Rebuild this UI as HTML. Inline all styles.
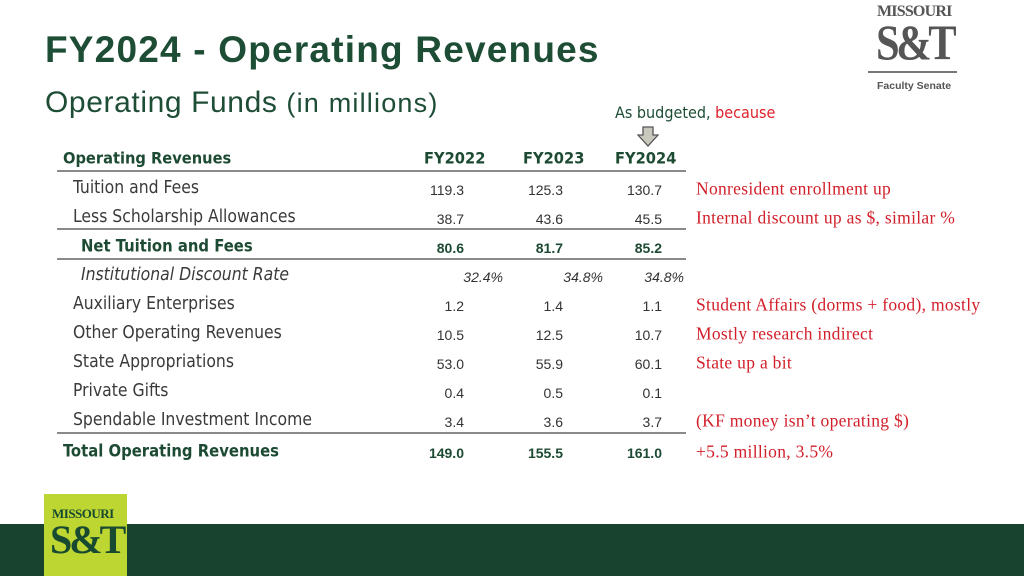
<!DOCTYPE html>
<html><head><meta charset="utf-8"><style>
body{margin:0;width:1024px;height:576px;position:relative;overflow:hidden;background:#fff;font-family:"Liberation Sans",sans-serif}
.a{position:absolute;white-space:nowrap}
.lab{font-family:"DejaVu Sans Condensed","Liberation Sans Narrow","Liberation Sans",sans-serif;font-size:17.4px;color:#3a3a3a;transform:translateY(-50%)}
.hd{font-family:"DejaVu Sans Condensed","Liberation Sans Narrow","Liberation Sans",sans-serif;font-size:16.3px;font-weight:bold;color:#1d4a33;transform:translateY(-50%)}
.v{font-size:14px;color:#333;transform:translate(-100%,-50%)}
.b{font-weight:bold;color:#1d4a33}
.n{font-family:"Liberation Serif",serif;font-size:17.5px;letter-spacing:0.3px;color:#d21f2a;transform:translateY(-50%)}
.ln{position:absolute;left:57px;width:629px;height:2px;background:#8a8a8a}
</style></head><body>
<div class="a" style="left:45px;top:29px;font-size:37px;font-weight:bold;color:#1e4d36;letter-spacing:1.2px">FY2024 - Operating Revenues</div>
<div class="a" style="left:45px;top:86px;font-size:30px;letter-spacing:0.6px;color:#1e4d36">Operating Funds <span style="font-size:27px;letter-spacing:1.2px">(in millions)</span></div>
<div class="a" style="left:615px;top:103px;font-size:16px;color:#1e4d36;font-family:'DejaVu Sans Condensed','Liberation Sans',sans-serif">As budgeted, <span style="color:#e0202b">because</span></div>
<svg class="a" style="left:637px;top:126px" width="22" height="21"><polygon points="6,1 16,1 16,9 21,9 11,20 1,9 6,9" fill="#c8c8bc" stroke="#555" stroke-width="1.3"/></svg>

<div class="a" style="left:868px;top:3px;width:90px;height:90px;color:#555">
<div style="position:absolute;left:9px;top:0;font-family:'Liberation Serif',serif;font-size:16px;font-weight:bold;letter-spacing:-0.8px">MISSOURI</div>
<div style="position:absolute;left:8px;top:10px;font-family:'Liberation Serif',serif;font-size:50px;font-weight:bold;letter-spacing:-4px;transform:scaleX(0.85);transform-origin:left">S&amp;T</div>
<div style="position:absolute;left:0;top:68px;width:89px;height:2px;background:#777"></div>
<div style="position:absolute;left:9px;top:77px;font-size:10.5px;font-weight:bold">Faculty Senate</div>
</div>

<div class="a" style="left:0;top:524px;width:1024px;height:52px;background:#17432f"></div>
<div class="a" style="left:44px;top:494px;width:83px;height:82px;background:#bdd632;color:#174a30">
<div style="position:absolute;left:8px;top:12px;font-family:'Liberation Serif',serif;font-size:13px;font-weight:bold;letter-spacing:-0.5px">MISSOURI</div>
<div style="position:absolute;left:6px;top:22px;font-family:'Liberation Serif',serif;font-size:40px;font-weight:bold;letter-spacing:-3px">S&amp;T</div>
</div>

<div class="ln" style="top:170px"></div>
<div class="ln" style="top:228px"></div>
<div class="ln" style="top:258px"></div>
<div class="ln" style="top:432px"></div>

<div id="tbl"></div>
<script>
const rows=["Tuition and Fees","Less Scholarship Allowances","Net Tuition and Fees","Institutional Discount Rate","Auxiliary Enterprises","Other Operating Revenues","State Appropriations","Private Gifts","Spendable Investment Income","Total Operating Revenues"];
const fy22=["119.3","38.7","80.6","32.4%","1.2","10.5","53.0","0.4","3.4","149.0"];
const fy23=["125.3","43.6","81.7","34.8%","1.4","12.5","55.9","0.5","3.6","155.5"];
const fy24=["130.7","45.5","85.2","34.8%","1.1","10.7","60.1","0.1","3.7","161.0"];
const notes=["Nonresident enrollment up","Internal discount up as $, similar %","","","Student Affairs (dorms + food), mostly","Mostly research indirect","State up a bit","","(KF money isn’t operating $)","+5.5 million, 3.5%"];
const ys=[188,217,246,275,304,333,362,391,420,451];
const t=document.getElementById('tbl');
function add(cls,x,y,txt,st){const d=document.createElement('div');d.className='a '+cls;d.style.left=x+'px';d.style.top=y+'px';d.textContent=txt;if(st)d.style.cssText+=st;t.appendChild(d);return d;}
let h=add('hd',63,158,'Operating Revenues');


[["FY2022",424],["FY2023",523],["FY2024",615]].forEach(c=>{const e=add('hd',c[1],158,c[0]);

});
rows.forEach((r,i)=>{
 const y=ys[i];
 const bold=(i==2||i==9), it=(i==3);
 const x=i==9?63:(i==2||i==3)?81:73;
 const l=add(bold?'hd':'lab',x,y,r,(it?'font-style:italic;':'')+(bold?'font-size:16.5px;':''));
 
 
 const xs=it?[503,603,684]:[464,563,662];
 [fy22,fy23,fy24].forEach((arr,j)=>{const v=add('v'+(bold?' b':''),xs[j],y+2,arr[i],it?'font-style:italic;':'');
 
 });
 if(notes[i]){const n=add('n',696,y+1,notes[i]);
 
 }
});
</script>
</body></html>
